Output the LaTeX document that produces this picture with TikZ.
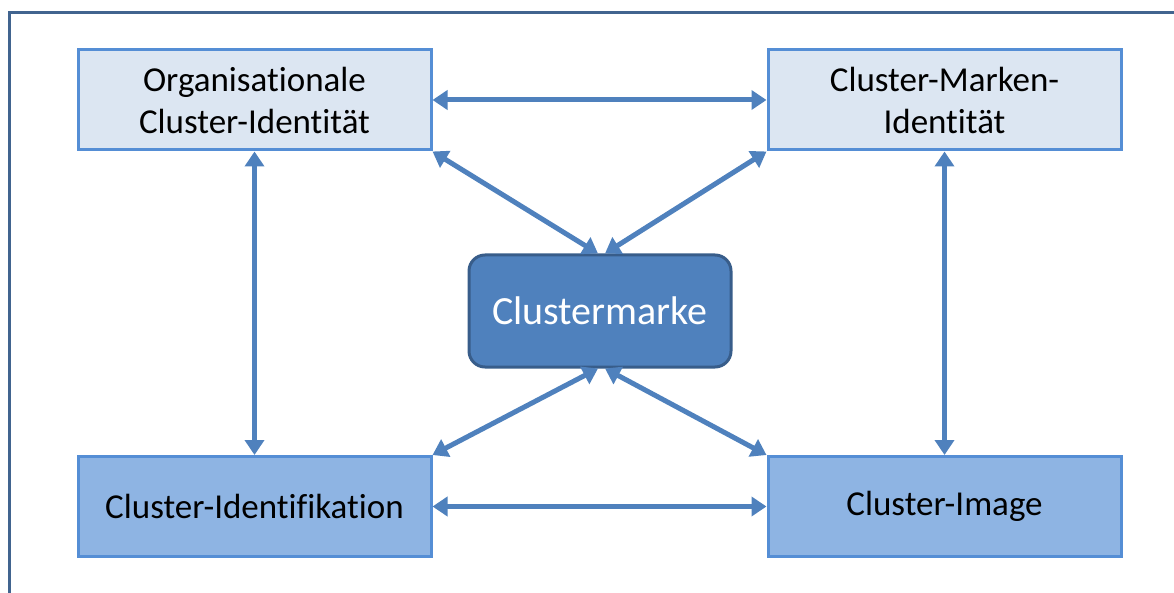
\documentclass[tikz,border=0pt]{standalone}
\usepackage{fontspec}
\setmainfont[Ligatures={NoCommon}]{Carlito}
\usetikzlibrary{arrows.meta}
\definecolor{frameblue}{HTML}{41648F}
\definecolor{lightfill}{HTML}{DCE6F2}
\definecolor{midfill}{HTML}{8EB4E3}
\definecolor{boxborder}{HTML}{558ED5}
\definecolor{centerfill}{HTML}{4F81BD}
\definecolor{centerborder}{HTML}{385D8A}
\definecolor{arrowblue}{HTML}{4F81BD}
\tikzset{
  x=1pt, y=1pt,
  topbox/.style={draw=boxborder, fill=lightfill, line width=3pt, minimum width=353pt, minimum height=100pt, align=center, font=\fontsize{35}{42}\selectfont, inner sep=0pt},
  botbox/.style={topbox, fill=midfill},
  centerbox/.style={draw=centerborder, fill=centerfill, line width=3pt, rounded corners=16pt, minimum width=262pt, minimum height=112pt, text=white, font=\fontsize{40}{46}\selectfont, inner sep=0pt},
  link/.style={draw=arrowblue, line width=5pt, {Triangle[length=15pt,width=19pt]}-{Triangle[length=15pt,width=19pt]}}
}
\begin{document}
\begin{tikzpicture}
\useasboundingbox (0,0) rectangle (1174,592);
\begin{scope}
\clip (0,0) rectangle (1174,592);
\draw[frameblue, line width=3pt] (1190,579) -- (9.5,579) -- (9.5,-20);
\end{scope}
\node[topbox] (oci) at (254.5,492) {Organisationale\\Cluster-Identität};
\node[topbox] (cmi) at (944.5,492) {Cluster-Marken-\\Identität};
\node[botbox] (cid) at (254.5,85.5) {Cluster-Identifikation};
\node[botbox] (cim) at (944.5,85.5) {Cluster-Image};
\node[centerbox] (cm) at (600,281) {Clustermarke};
\draw[link] (oci.east) -- (cmi.west);
\draw[link] (cid.east) -- (cim.west);
\draw[link] (oci.south) -- (cid.north);
\draw[link] (cmi.south) -- (cim.north);
\draw[link] (oci.south east) -- ([xshift=-2pt]cm.north);
\draw[link] (cmi.south west) -- ([xshift=5pt]cm.north);
\draw[link] (cid.north east) -- ([xshift=-2pt]cm.south);
\draw[link] (cim.north west) -- ([xshift=5pt]cm.south);
\end{tikzpicture}
\end{document}
